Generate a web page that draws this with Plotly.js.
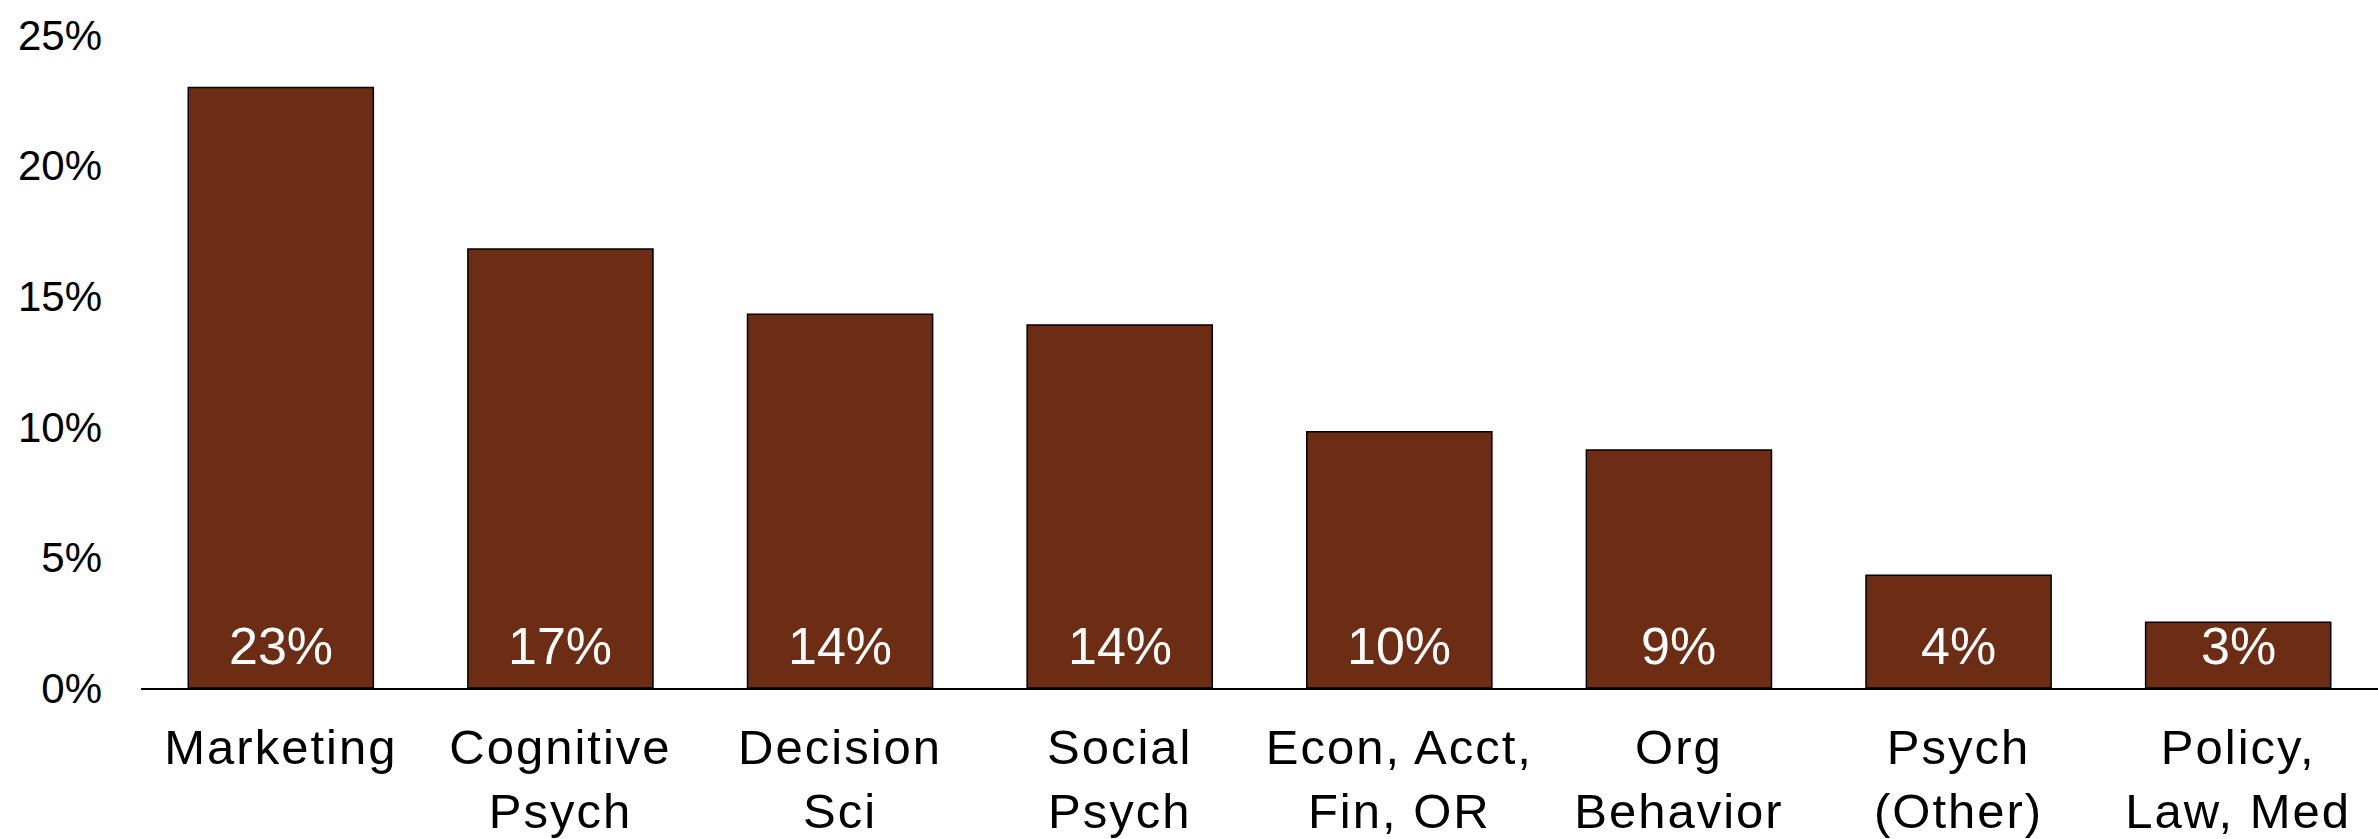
<!DOCTYPE html>
<html>
<head>
<meta charset="utf-8">
<script src="https://cdn.plot.ly/plotly-3.0.1.min.js"></script>
<style>
html,body{margin:0;padding:0;background:#fff;}
#chart{width:2378px;height:839px;}
#chart .xtick text{letter-spacing:2px;}
</style>
</head>
<body>
<div id="chart"></div>
<script>
var categories = ["Marketing", "Cognitive<br>Psych", "Decision<br>Sci", "Social<br>Psych", "Econ, Acct,<br>Fin, OR", "Org<br>Behavior", "Psych<br>(Other)", "Policy,<br>Law, Med"];
var shares = [0.2299, 0.1681, 0.1431, 0.1390, 0.0981, 0.0911, 0.0432, 0.0252];
var shareLabels = ["23%", "17%", "14%", "14%", "10%", "9%", "4%", "3%"];
var yTickVals = [0, 0.05, 0.10, 0.15, 0.20, 0.25];
var yTickText = ["0%", "5%", "10%", "15%", "20%", "25%"];

var FONT = "Liberation Sans, Arial, sans-serif";

var trace = {
  type: "bar",
  x: categories,
  y: shares,
  marker: { color: "#6D2C14", line: { color: "#000000", width: 1.5 } },
  hoverinfo: "none"
};

var annotations = categories.map(function (c, i) {
  return {
    x: c, y: 0, xref: "x", yref: "y",
    text: shareLabels[i],
    showarrow: false,
    yanchor: "middle",
    yshift: 42,
    font: { family: FONT, size: 52, color: "#ffffff" }
  };
});

var layout = {
  width: 2378,
  height: 839,
  margin: { l: 141, r: 0, t: 34.5, b: 151.3, pad: 0 },
  paper_bgcolor: "#ffffff",
  plot_bgcolor: "#ffffff",
  showlegend: false,
  bargap: 0.338,
  font: { family: FONT, color: "#000000" },
  xaxis: {
    type: "category",
    showline: true,
    linecolor: "#000000",
    linewidth: 2,
    showgrid: false,
    zeroline: false,
    ticks: "",
    ticklabelstandoff: 15,
    tickfont: { family: FONT, size: 49, color: "#000000" }
  },
  yaxis: {
    range: [0, 0.25],
    tickvals: yTickVals,
    ticktext: yTickText,
    showline: false,
    showgrid: false,
    zeroline: false,
    ticks: "",
    ticklabelstandoff: 38,
    tickfont: { family: FONT, size: 42, color: "#000000" }
  },
  annotations: annotations
};

Plotly.newPlot("chart", [trace], layout, { staticPlot: true, displayModeBar: false });
</script>
</body>
</html>
